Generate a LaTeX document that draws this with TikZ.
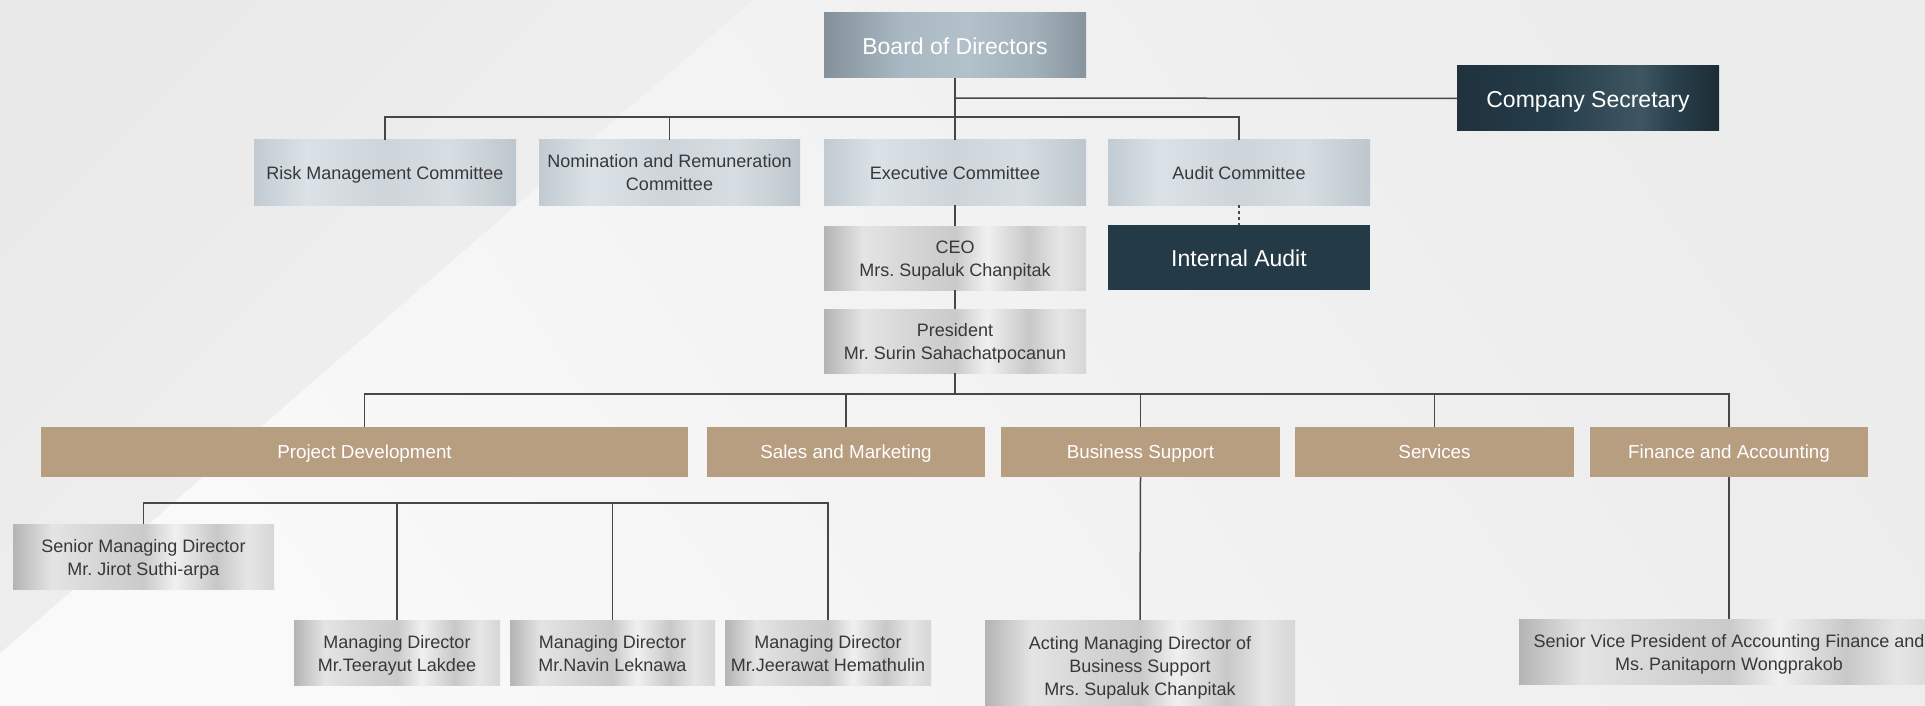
\documentclass[tikz,border=0pt]{standalone}
\usepackage{fontspec}
\setmainfont{Liberation Sans}
\frenchspacing

% palette
\definecolor{linegray}{HTML}{474747}
\definecolor{txtdark}{HTML}{383838}
\definecolor{tanfill}{HTML}{B89E80}
\definecolor{bgdark}{HTML}{ECECEC}
\definecolor{bglight}{HTML}{F9F9F9}
\definecolor{wedgedark}{HTML}{E9E9E9}
\definecolor{wedgelight}{HTML}{F3F3F3}

% metallic silver (people boxes)
\definecolor{sva}{HTML}{B4B4B4}
\definecolor{svb}{HTML}{E4E4E4}
\definecolor{svc}{HTML}{D4D4D4}
\definecolor{svd}{HTML}{CACACA}
\definecolor{sve}{HTML}{F0F0F0}
\definecolor{svf}{HTML}{C8C8C8}
\definecolor{svg}{HTML}{E6E6E6}
\definecolor{svh}{HTML}{D6D6D6}
% frosted blue-grey (committees)
\definecolor{fra}{HTML}{C2CBD2}
\definecolor{frb}{HTML}{DAE2E7}
\definecolor{frc}{HTML}{CDD5DB}
\definecolor{frd}{HTML}{D6DEE3}
\definecolor{fre}{HTML}{BEC7CD}
% steel (board)
\definecolor{sta}{HTML}{84919B}
\definecolor{stb}{HTML}{A9B8C2}
\definecolor{stc}{HTML}{B3C1CA}
\definecolor{std}{HTML}{A2B0BA}
\definecolor{ste}{HTML}{87949D}
% navy
\definecolor{nva}{HTML}{1F323D}
\definecolor{nvb}{HTML}{253C49}
\definecolor{nvc}{HTML}{3F5662}
\definecolor{nvd}{HTML}{2A414D}
\definecolor{nve}{HTML}{1C2C35}
\definecolor{navyflat}{HTML}{243A47}

\pgfdeclarehorizontalshading{silverbar}{100bp}{color(0bp)=(sva); color(25bp)=(sva);
  color(32.5bp)=(svb); color(42.5bp)=(svc); color(50bp)=(svd); color(56bp)=(sve);
  color(64bp)=(svf); color(70bp)=(svg); color(75bp)=(svh); color(100bp)=(svh)}
\pgfdeclarehorizontalshading{frostbar}{100bp}{color(0bp)=(fra); color(25bp)=(fra);
  color(35bp)=(frb); color(50bp)=(frc); color(62.5bp)=(frd); color(75bp)=(fre); color(100bp)=(fre)}
\pgfdeclarehorizontalshading{steelbar}{100bp}{color(0bp)=(sta); color(25bp)=(sta);
  color(40bp)=(stb); color(52.5bp)=(stc); color(65bp)=(std); color(75bp)=(ste); color(100bp)=(ste)}
\pgfdeclarehorizontalshading{navybar}{100bp}{color(0bp)=(nva); color(25bp)=(nva);
  color(42.5bp)=(nvb); color(60bp)=(nvc); color(66bp)=(nvd); color(75bp)=(nve); color(100bp)=(nve)}

% centred text block, lines a fixed baselineskip apart, nudged down to sit optically centred
\newcommand{\tx}[2][2.5pt]{\raisebox{-#1}[\height][\depth]{\begin{tabular}{@{}c@{}}#2\end{tabular}}}

\begin{document}
\begin{tikzpicture}[x=1pt,y=-1pt,
  wire/.style={draw=linegray, line width=1.5pt},
  basebox/.style={rectangle, inner sep=0pt, align=center, text=txtdark,
    font=\fontsize{18}{23}\selectfont},
  bigtext/.style={text=white, font=\fontsize{23}{28}\selectfont},
  steelbox/.style={basebox, shade, shading=steelbar, bigtext},
  navybox/.style={basebox, shade, shading=navybar, bigtext},
  frostbox/.style={basebox, shade, shading=frostbar},
  silverbox/.style={basebox, shade, shading=silverbar},
  deptbox/.style={basebox, fill=tanfill, text=white, minimum height=50,
    font=\fontsize{18.8}{23}\selectfont},
  wide/.style={minimum width=262, minimum height=65}]

\useasboundingbox (0,0) rectangle (1925,706);
\clip (0,0) rectangle (1925,706);

% background
\shade[top color=bgdark, bottom color=bglight, shading angle=-55] (0,0) rectangle (1925,706);
\shade[top color=wedgedark, bottom color=wedgelight, shading angle=45] (0,0) -- (753,0) -- (0,653) -- cycle;

% board level
\node[steelbox, wide] (board) at (955,45.5) {\tx[3pt]{Board of Directors}};
\node[navybox, wide] (secretary) at (1588,98.5) {\tx[3pt]{Company Secretary}};

% committees
\node[frostbox, wide] (risk) at (385,172.5) {\tx[2pt]{Risk Management Committee}};
\node[frostbox, minimum width=261, minimum height=65] (nomination) at (669.5,172.5) {\tx[2pt]{Nomination and Remuneration\\Committee}};
\node[frostbox, wide] (exec) at (955,172.5) {\tx[2pt]{Executive Committee}};
\node[frostbox, wide] (audit) at (1239,172.5) {\tx[2pt]{Audit Committee}};
\node[basebox, fill=navyflat, bigtext, wide] (internal) at (1239,257.5) {\tx[3pt]{Internal Audit}};

% executives
\node[silverbox, minimum width=262, minimum height=64] (ceo) at (955,258) {\tx{CEO\\Mrs. Supaluk Chanpitak}};
\node[silverbox, minimum width=262, minimum height=64] (president) at (955,341) {\tx{President\\Mr. Surin Sahachatpocanun}};

% departments
\node[deptbox, minimum width=647] (projdev) at (364.5,452) {\tx[1.5pt]{Project Development}};
\node[deptbox, minimum width=278] (sales) at (846,452) {\tx[1.5pt]{Sales and Marketing}};
\node[deptbox, minimum width=279] (bizsup) at (1140.5,452) {\tx[1.5pt]{Business Support}};
\node[deptbox, minimum width=279] (services) at (1434.5,452) {\tx[1.5pt]{Services}};
\node[deptbox, minimum width=278] (finance) at (1729,452) {\tx[1.5pt]{Finance and Accounting}};

% directors
\node[silverbox, minimum width=261, minimum height=65] (senior) at (143.5,556.5) {\tx{Senior Managing Director\\Mr. Jirot Suthi-arpa}};
\node[silverbox, minimum width=206, minimum height=65] (mdone) at (397,652.5) {\tx{Managing Director\\Mr.Teerayut Lakdee}};
\node[silverbox, minimum width=205, minimum height=65] (mdtwo) at (612.5,652.5) {\tx{Managing Director\\Mr.Navin Leknawa}};
\node[silverbox, minimum width=206, minimum height=65] (mdthree) at (828,652.5) {\tx{Managing Director\\Mr.Jeerawat Hemathulin}};
\node[silverbox, minimum width=310, minimum height=92] (acting) at (1140,666) {\tx[1.5pt]{Acting Managing Director of\\Business Support\\Mrs. Supaluk Chanpitak}};
\node[silverbox, minimum width=420, minimum height=65] (svp) at (1729,652) {\tx{Senior Vice President of Accounting Finance and\\Ms. Panitaporn Wongprakob}};

% bus levels
\coordinate (commbus) at (0,117);
\coordinate (secbus) at (0,98);
\coordinate (deptbus) at (0,394);
\coordinate (pdbus) at (0,503);

% board connectors
\draw[wire] (board.south) -- (exec.north);
\draw[wire] (board.south |- secbus) -- (secretary.west);
\draw[wire] (risk.north) -- (risk.north |- commbus) -| (audit.north);
\draw[wire] (nomination.north) -- (nomination.north |- commbus);
\draw[wire, dash pattern=on 3pt off 3pt] (audit.south) -- (internal.north);

% executive chain
\draw[wire] (exec.south) -- (ceo.north);
\draw[wire] (ceo.south) -- (president.north);
\draw[wire] (president.south) -- (president.south |- deptbus);
\draw[wire] (projdev.north) -- (projdev.north |- deptbus) -| (finance.north);
\draw[wire] (sales.north) -- (sales.north |- deptbus);
\draw[wire] (bizsup.north) -- (bizsup.north |- deptbus);
\draw[wire] (services.north) -- (services.north |- deptbus);

% project development directors
\draw[wire] (senior.north) -- (senior.north |- pdbus) -| (mdthree.north);
\draw[wire] (mdone.north) -- (mdone.north |- pdbus);
\draw[wire] (mdtwo.north) -- (mdtwo.north |- pdbus);

% other departments
\draw[wire] (bizsup.south) -- (acting.north);
\draw[wire] (finance.south) -- (svp.north);
\end{tikzpicture}
\end{document}
